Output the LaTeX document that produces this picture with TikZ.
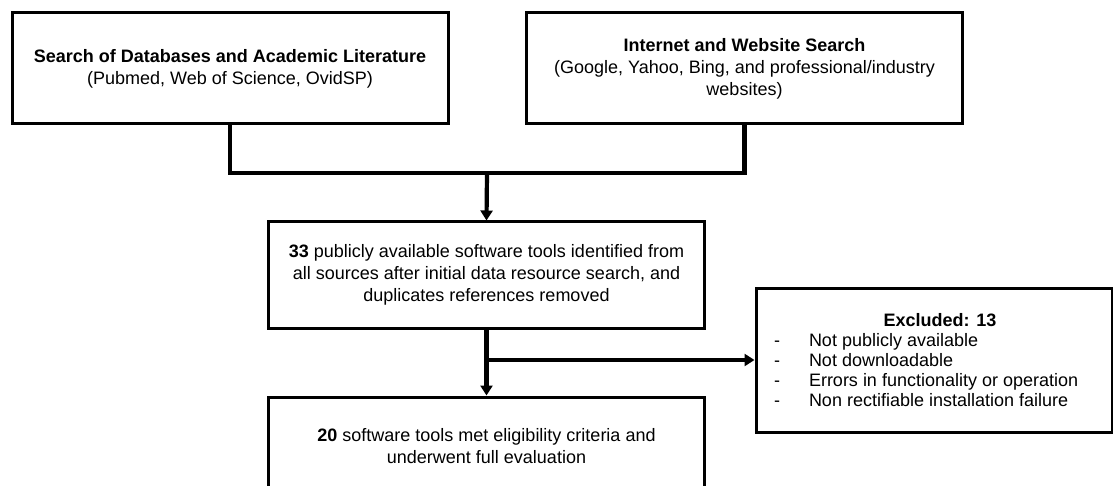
\documentclass[tikz,border=0pt]{standalone}
\usepackage{fontspec}
\setmainfont{Liberation Sans}
\usepackage{tikz}
\usetikzlibrary{arrows.meta,positioning}

\begin{document}
\begin{tikzpicture}[
        x=1pt, y=-1pt,
        every node/.style={font=\fontsize{18}{22}\selectfont},
        stagebox/.style={draw, line width=3pt, rectangle, align=center, inner sep=0pt,
          minimum width=436pt, minimum height=111pt},
        link/.style={line width=4.2pt, line join=miter},
        flow/.style={link, -{Triangle[length=10pt, width=12pt]}}
      ]
      \useasboundingbox (0,0) rectangle (1113,486);
      % search sources
      \node[stagebox] (dbsearch) at (230,68.5)
        {{\bfseries Search of Databases and Academic Literature}\\(Pubmed, Web of Science, OvidSP)};
      \node[stagebox] (websearch) at (744.5,68.5)
        {{\bfseries Internet and Website Search}\\(Google, Yahoo, Bing, and professional/industry\\websites)};
      % screening
      \node[stagebox, minimum height=106pt] (pool) at (486.5,275)
        {{\bfseries 33} publicly available software tools identified from\\all sources after initial data resource search, and\\duplicates references removed};
      \node[stagebox, minimum height=99pt, below=66pt of pool] (final)
        {{\bfseries 20} software tools met eligibility criteria and\\underwent full evaluation};
      \node[stagebox, align=left, minimum width=356pt, minimum height=144pt,
        font=\fontsize{18}{20}\selectfont] (excl) at (934,360)
        {\hspace*{12pt}\makebox[344pt]{\bfseries Excluded: 13}\\
         \hspace*{18pt}\makebox[35pt][l]{-}Not publicly available\\
         \hspace*{18pt}\makebox[35pt][l]{-}Not downloadable\\
         \hspace*{18pt}\makebox[35pt][l]{-}Errors in functionality or operation\\
         \hspace*{18pt}\makebox[35pt][l]{-}Non rectifiable installation failure};
      \coordinate (join) at (487,173);
      \coordinate (split) at (487,360);
      \draw[link] (dbsearch.south) |- (join);
      \draw[link] (websearch.south) |- (join);
      \draw[flow] (join) -- (pool.north);
      \draw[flow] (pool.south) -- (final.north);
      \draw[flow] (split) -- (excl.west);
    \end{tikzpicture}
\end{document}
